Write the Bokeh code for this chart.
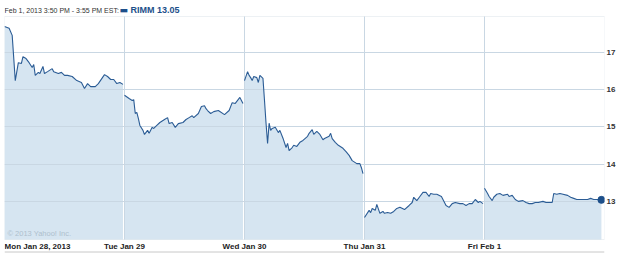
from bokeh.plotting import figure
from bokeh.models import (Range1d, LinearAxis, FixedTicker, Label, ColumnDataSource, BoxAnnotation, Span)
from bokeh.core.properties import value
from bokeh.embed import file_html
from bokeh.resources import INLINE

# ---------------- data ----------------
day_names = ["Mon Jan 28, 2013", "Tue Jan 29", "Wed Jan 30", "Thu Jan 31", "Fri Feb 1"]
day_label_pos = [0.275, 1, 2, 3, 4]

mon_times = ["09:30", "09:45", "09:55", "10:05", "10:15", "10:25", "10:30", "10:40", "10:50", "11:00",
             "11:05", "11:10", "11:20", "11:25", "11:35", "11:40", "11:50", "12:05", "12:10", "12:25",
             "12:35", "12:45", "12:55", "13:10", "13:25", "13:40", "13:50", "14:00", "14:10", "14:25",
             "14:35", "14:55", "15:05", "15:15", "15:25", "15:35", "15:45", "15:55"]
mon_prices = [17.69, 17.64, 17.45, 16.24, 16.72, 16.70, 16.88, 16.83, 16.72, 16.59,
              16.67, 16.38, 16.46, 16.43, 16.62, 16.43, 16.48, 16.56, 16.48, 16.43,
              16.46, 16.38, 16.38, 16.35, 16.24, 16.19, 16.03, 16.16, 16.08, 16.08,
              16.16, 16.40, 16.35, 16.27, 16.27, 16.16, 16.19, 16.14]

tue_times = ["09:30", "09:45", "09:55", "10:00", "10:05", "10:10", "10:15", "10:20", "10:30", "10:35",
             "10:45", "10:50", "11:00", "11:05", "11:15", "11:25", "11:40", "11:50", "11:55", "12:05",
             "12:15", "12:25", "12:40", "12:50", "13:00", "13:10", "13:15", "13:30", "13:40", "13:50",
             "13:55", "14:00", "14:10", "14:20", "14:35", "14:55", "15:10", "15:20", "15:30", "15:45",
             "15:55"]
tue_prices = [15.85, 15.76, 15.71, 15.73, 15.36, 15.39, 15.23, 15.04, 14.91, 14.80,
              14.91, 14.83, 14.99, 14.96, 15.04, 15.12, 15.20, 15.25, 15.09, 15.12,
              14.99, 15.09, 15.12, 15.20, 15.25, 15.30, 15.25, 15.36, 15.55, 15.57,
              15.49, 15.44, 15.36, 15.41, 15.44, 15.33, 15.44, 15.65, 15.63, 15.79,
              15.63]

wed_times = ["09:30", "09:40", "09:45", "09:50", "09:55", "10:00", "10:10", "10:15", "10:20", "10:30",
             "10:35", "10:40", "10:45", "10:50", "10:55", "11:00", "11:10", "11:20", "11:25", "11:35",
             "11:45", "11:50", "11:55", "12:05", "12:10", "12:20", "12:30", "12:40", "12:55", "13:00",
             "13:10", "13:15", "13:25", "13:35", "13:45", "13:50", "14:05", "14:10", "14:15", "14:25",
             "14:35", "14:50", "15:00", "15:10", "15:20", "15:35", "15:45", "15:50", "15:55"]
wed_prices = [16.24, 16.48, 16.38, 16.32, 16.24, 16.35, 16.32, 16.19, 16.38, 16.30,
              15.71, 15.10, 14.56, 15.10, 14.91, 14.96, 14.99, 14.85, 14.91, 14.70,
              14.45, 14.56, 14.37, 14.45, 14.51, 14.48, 14.59, 14.64, 14.75, 14.83,
              14.93, 14.80, 14.88, 14.80, 14.66, 14.69, 14.75, 14.83, 14.69, 14.59,
              14.51, 14.43, 14.34, 14.24, 14.10, 14.02, 14.02, 13.91, 13.75]

thu_times = ["09:30", "09:45", "09:50", "09:55", "10:05", "10:10", "10:20", "10:30", "10:35", "10:45",
             "10:55", "11:05", "11:15", "11:25", "11:40", "11:55", "12:05", "12:10", "12:20", "12:30",
             "12:40", "12:50", "13:00", "13:05", "13:15", "13:25", "13:40", "13:45", "13:55", "14:05",
             "14:15", "14:25", "14:40", "14:50", "15:00", "15:10", "15:20", "15:30", "15:40", "15:45",
             "15:55"]
thu_prices = [12.58, 12.77, 12.71, 12.82, 12.77, 12.93, 12.69, 12.74, 12.69, 12.71,
              12.69, 12.74, 12.82, 12.85, 12.79, 12.90, 12.98, 13.12, 13.03, 13.14,
              13.25, 13.25, 13.14, 13.22, 13.20, 13.20, 13.14, 13.06, 12.90, 12.85,
              12.95, 12.98, 12.95, 12.95, 12.90, 12.95, 12.95, 13.06, 12.98, 13.01,
              12.95]

fri_times = ["09:30", "09:40", "09:45", "09:55", "10:00", "10:10", "10:20", "10:30", "10:45", "10:50",
             "11:00", "11:10", "11:20", "11:35", "11:45", "11:55", "12:05", "12:15", "12:25", "12:40",
             "12:50", "13:00", "13:10", "13:15", "13:25", "13:35", "13:45", "14:00", "14:10", "14:20",
             "14:30", "14:50", "15:05", "15:15", "15:25", "15:35", "15:50"]
fri_prices = [13.36, 13.22, 13.14, 13.03, 13.12, 13.20, 13.22, 13.17, 13.20, 13.14,
              13.17, 13.06, 13.01, 13.03, 12.98, 12.95, 12.95, 12.98, 12.98, 13.01,
              12.98, 12.98, 12.98, 13.22, 13.20, 13.22, 13.20, 13.17, 13.12, 13.09,
              13.06, 13.06, 13.06, 13.09, 13.06, 13.06, 13.05]

y_ticks = [13, 14, 15, 16, 17]
y_start, y_top = 11.99, 17.955          # visible price window of the chart box
last_price_label = "RIMM 13.05"
header_text = "Feb 1, 2013 3:50 PM - 3:55 PM EST:"
copyright_text = "\u00a9 2013 Yahoo! Inc."

# ---------------- styles / layout ----------------
LINE = "#2b5c95"
FILL = "#d6e5f1"
GRID = "#c9d7e3"
BORDER = "#c3d0db"
TEXT = "#333333"
FONT = "Liberation Sans"
W, H = 625, 253
BOX_TOP_PX = 16        # chart box starts 16px below the top edge
BOTTOM_PX = 14         # room below the chart box for day labels

box_h = H - BOX_TOP_PX - BOTTOM_PX
ppu = box_h / (y_top - y_start)           # pixels per price unit
y_lo = y_start - BOTTOM_PX / ppu
y_hi = y_top + BOX_TOP_PX / ppu

SESSION_MIN = 390.0


def to_x(day_index, times):
    out = []
    for t in times:
        h, m = t.split(":")
        mins = int(h) * 60 + int(m) - (9 * 60 + 30)
        out.append(day_index + mins / SESSION_MIN)
    return out


days = [(mon_times, mon_prices), (tue_times, tue_prices), (wed_times, wed_prices),
        (thu_times, thu_prices), (fri_times, fri_prices)]

p = figure(width=W, height=H, output_backend="svg", toolbar_location=None,
           x_range=Range1d(0, 5), y_range=Range1d(y_lo, y_hi),
           x_axis_location=None, y_axis_location=None,
           min_border_left=4, min_border_right=21, min_border_top=0, min_border_bottom=0)
p.background_fill_color = "white"
p.border_fill_color = "white"
p.outline_line_color = None
p.xgrid.visible = False

for i, (t, pr) in enumerate(days):
    xs = to_x(i, t)
    src = ColumnDataSource(dict(x=xs, y=pr, base=[y_start] * len(xs)))
    p.varea(x="x", y1="base", y2="y", source=src, fill_color=FILL, level="image")
    p.line(x="x", y="y", source=src, line_color=LINE, line_width=1.1)

# day separators
day_bounds = [1, 2, 3, 4]
p.segment(x0=day_bounds, x1=day_bounds, y0=[y_start] * 4, y1=[y_top] * 4,
          line_color=GRID, line_width=1, level="underlay")

# last point marker
fx = to_x(4, fri_times)
p.scatter(x=[fx[-1]], y=[fri_prices[-1]], size=7, fill_color="#1d4f8a", line_color="#1d4f8a")

# horizontal grid
p.ygrid.ticker = FixedTicker(ticks=y_ticks)
p.ygrid.grid_line_color = GRID
p.ygrid.grid_line_width = 1
p.ygrid.level = "underlay"

# chart box border
p.add_layout(BoxAnnotation(left=0, right=5, bottom=y_start, top=y_top,
                           fill_alpha=0, line_color=BORDER, line_width=1))

# right axis
ry = LinearAxis(ticker=FixedTicker(ticks=y_ticks))
ry.axis_line_color = None
ry.major_tick_line_color = None
ry.minor_tick_line_color = None
ry.major_tick_out = 0
ry.major_tick_in = 0
ry.minor_tick_out = 0
ry.minor_tick_in = 0
ry.major_label_standoff = 2
ry.major_label_text_font = FONT
ry.major_label_text_font_style = "bold"
ry.major_label_text_font_size = "8px"
ry.major_label_text_color = TEXT
p.add_layout(ry, "right")

# day labels under the chart box
lab_y = y_start - 6.5 / ppu
p.text(x=day_label_pos, y=[lab_y] * len(day_names), text=day_names,
       text_font=value(FONT), text_font_style="bold", text_font_size="8px",
       text_color="#222222", text_align="center", text_baseline="middle")

# bottom separator line
p.add_layout(Span(location=y_start - 12.5 / ppu, dimension="width",
                  line_color="#c8c8c8", line_width=1))

# header (screen units measured from the frame's bottom-left corner)
p.add_layout(Label(x=0, y=H - 9.5, x_units="screen", y_units="screen", text=header_text,
                   text_font=FONT, text_font_size="7px", text_color=TEXT,
                   text_baseline="middle", text_align="left"))
p.add_layout(Label(x=115, y=H - 9, x_units="screen", y_units="screen", text="\u25ac",
                   text_font="DejaVu Sans", text_font_size="9px", text_color="#1d4f8a",
                   text_baseline="middle", text_align="left"))
p.add_layout(Label(x=126, y=H - 9.5, x_units="screen", y_units="screen", text=last_price_label,
                   text_font=FONT, text_font_size="9px", text_font_style="bold",
                   text_color="#1d4f8a", text_baseline="middle", text_align="left"))
# copyright
p.add_layout(Label(x=3, y=BOTTOM_PX + 6.5, x_units="screen", y_units="screen", text=copyright_text,
                   text_font=FONT, text_font_size="7.5px", text_color="#aebfcd",
                   text_baseline="middle", text_align="left"))

open("out.html", "w").write(file_html(p, INLINE))
